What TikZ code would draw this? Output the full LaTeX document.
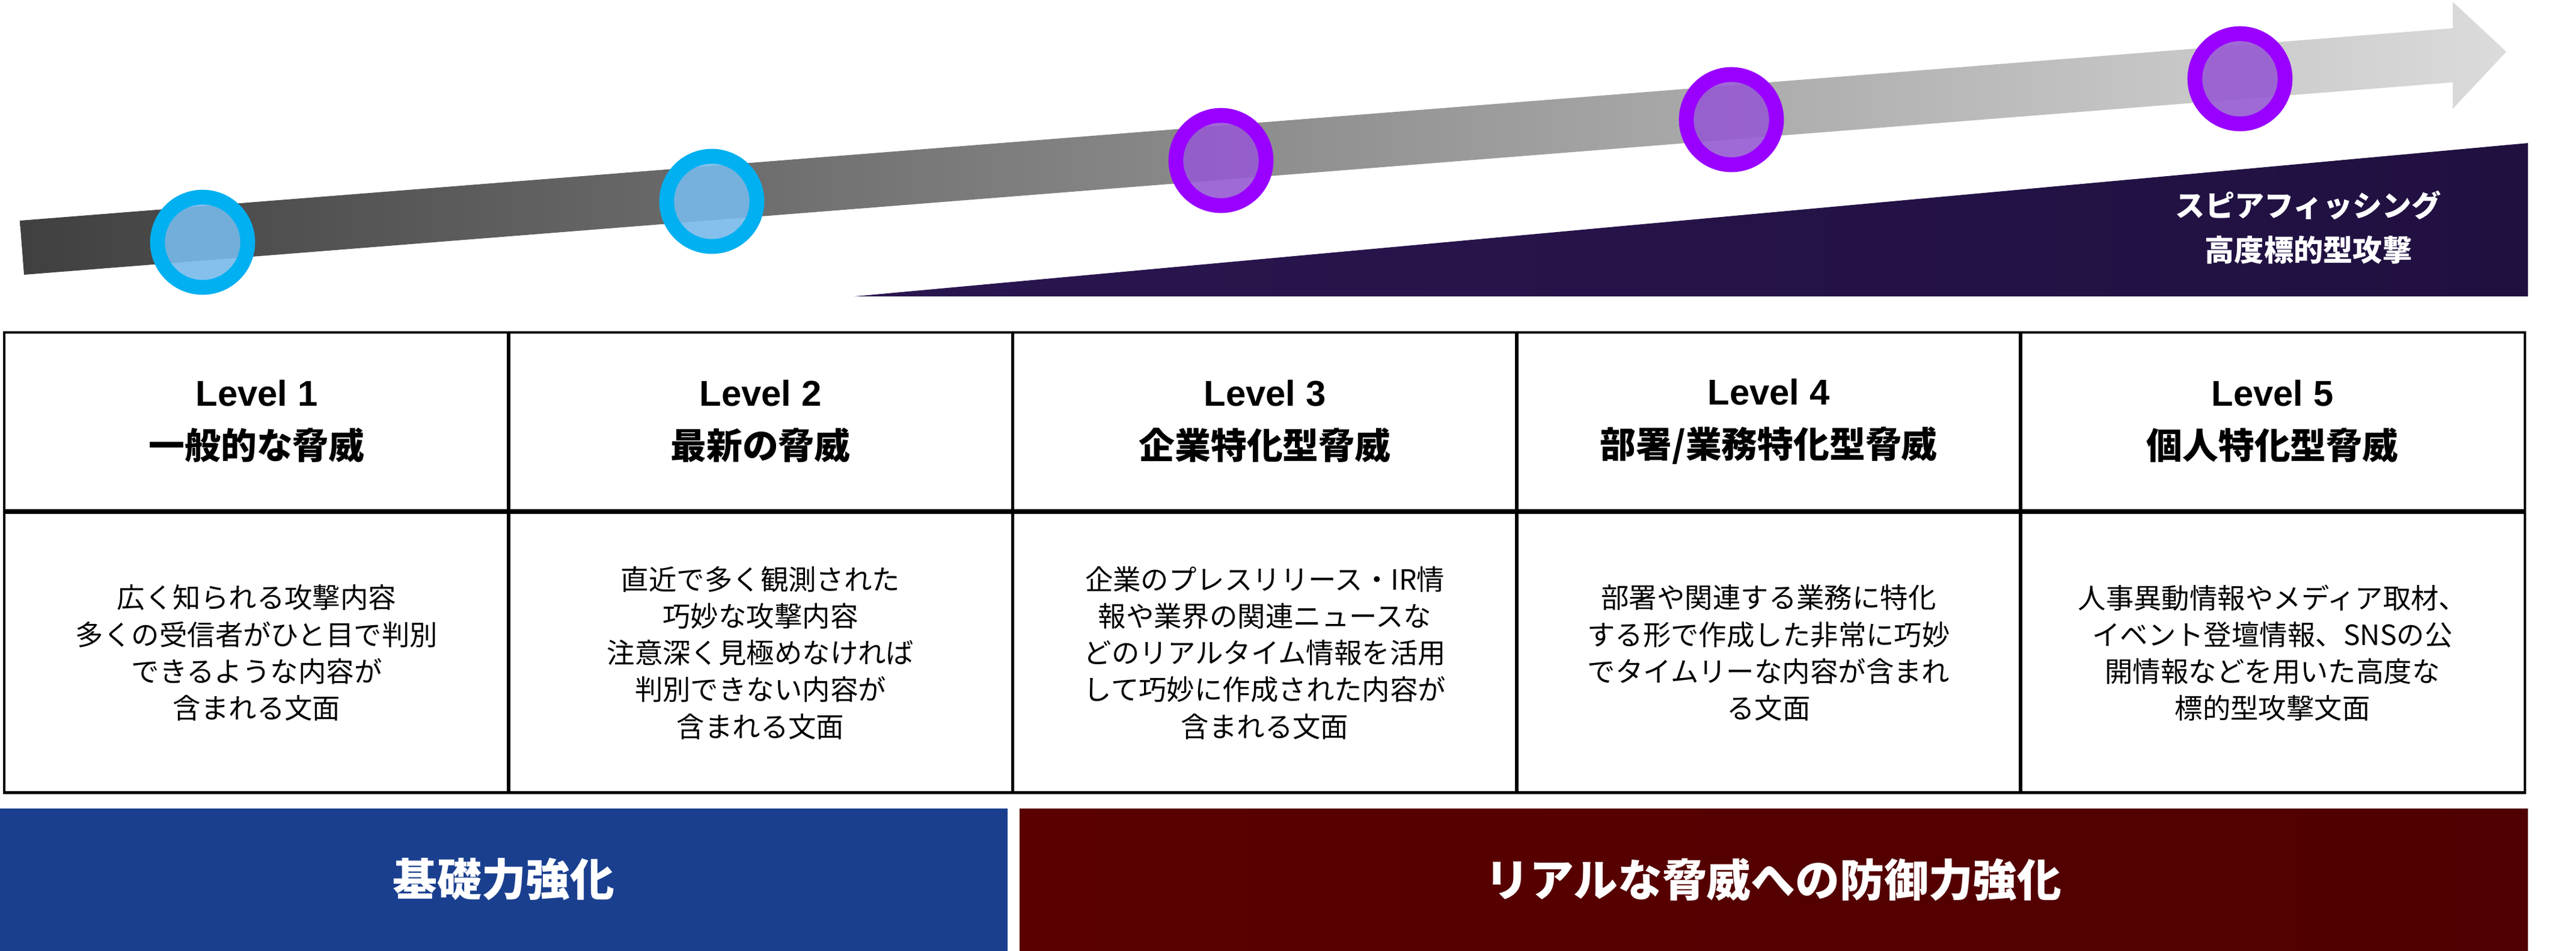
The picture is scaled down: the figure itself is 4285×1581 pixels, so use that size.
\documentclass[tikz,border=0pt]{standalone}
\usepackage{fontspec}
\setmainfont{Noto Sans CJK JP}
\newcommand\jpb{\bfseries}
\newfontfamily\lat{Liberation Sans}
\usetikzlibrary{positioning, calc}
\definecolor{ringblue}{HTML}{00B0F0}
\definecolor{ringpurple}{HTML}{9900FF}
\tikzstyle{head} = [rectangle, draw=black, line width=1.2pt, minimum width=8.39cm, minimum height=2.96cm, align=center, font=\fontsize{17}{25}\selectfont\bfseries, text centered]
\tikzstyle{body} = [rectangle, draw=black, line width=1.2pt, minimum width=8.39cm, minimum height=4.65cm, align=center, font=\fontsize{13.2}{17.4}\selectfont]
\tikzstyle{stage} = [line width=7pt]
\tikzstyle{band} = [text=white, font=\jpb\fontsize{21}{25}\selectfont]

\begin{document}
\begin{tikzpicture}[x=0.01cm, y=-0.01cm]
    \useasboundingbox (0,0) rectangle (4285,1581);
    % progress arrow
    \shade[left color=black!75, right color=black!14] (33,367) -- (4080,47) -- (4080,3) -- (4169,86) -- (4080,181) -- (4080,137) -- (40,457) -- cycle;
    % spear phishing wedge
    \shade[left color={rgb,255:red,42;green,22;blue,80}, middle color={rgb,255:red,80;green,40;blue,170}, right color={rgb,255:red,32;green,16;blue,64}] (1422,493) -- (4205,238) -- (4205,493) -- cycle;
    \node (spear) [band, font=\jpb\fontsize{14}{21}\selectfont, align=center] at (3840,378) {スピアフィッシング\\高度標的型攻撃};
    % stage markers
    \node (s1) [stage, circle, draw=ringblue, fill={rgb,255:red,120;green,185;blue,235}, fill opacity=0.9, minimum size=1.5cm] at (337,403) {};
    \node (s2) [stage, circle, draw=ringblue, fill={rgb,255:red,120;green,185;blue,235}, fill opacity=0.9, minimum size=1.5cm] at (1184,335) {};
    \node (s3) [stage, circle, draw=ringpurple, fill={rgb,255:red,150;green,90;blue,210}, fill opacity=0.9, minimum size=1.5cm] at (2031,267) {};
    \node (s4) [stage, circle, draw=ringpurple, fill={rgb,255:red,150;green,90;blue,210}, fill opacity=0.9, minimum size=1.5cm] at (2880,199) {};
    \node (s5) [stage, circle, draw=ringpurple, fill={rgb,255:red,150;green,90;blue,210}, fill opacity=0.9, minimum size=1.5cm] at (3726,131) {};
    % table
    \node (h1) [head] at (427,701) {{\lat Level 1}\\一般的な脅威};
    \node (h2) [head] at (1265,701) {{\lat Level 2}\\最新の脅威};
    \node (h3) [head] at (2104,701) {{\lat Level 3}\\企業特化型脅威};
    \node (h4) [head] at (2942,701) {{\lat Level 4}\\部署/業務特化型脅威};
    \node (h5) [head] at (3780,701) {{\lat Level 5}\\個人特化型脅威};
    \node (b1) [body, below=0pt of h1] {広く知られる攻撃内容\\多くの受信者がひと目で判別\\できるような内容が\\含まれる文面};
    \node (b2) [body, below=0pt of h2] {直近で多く観測された\\巧妙な攻撃内容\\注意深く見極めなければ\\判別できない内容が\\含まれる文面};
    \node (b3) [body, below=0pt of h3] {企業のプレスリリース・IR情\\報や業界の関連ニュースな\\どのリアルタイム情報を活用\\して巧妙に作成された内容が\\含まれる文面};
    \node (b4) [body, below=0pt of h4] {部署や関連する業務に特化\\する形で作成した非常に巧妙\\でタイムリーな内容が含まれ\\る文面};
    \node (b5) [body, below=0pt of h5] {人事異動情報やメディア取材、\\イベント登壇情報、SNSの公\\開情報などを用いた高度な\\標的型攻撃文面};
    % bottom bands
    \shade[left color={rgb,255:red,26;green,63;blue,143}, middle color={rgb,255:red,51;green,120;blue,232}, right color={rgb,255:red,26;green,63;blue,143}] (0,1345) rectangle (1676,1581);
    \shade[left color={rgb,255:red,90;green,0;blue,0}, middle color={rgb,255:red,221;green,0;blue,0}, right color={rgb,255:red,80;green,0;blue,0}] (1696,1345) rectangle (4205,1581);
    \node (base) [band] at (838,1463) {基礎力強化};
    \node (real) [band] at (2950,1463) {リアルな脅威への防御力強化};
\end{tikzpicture}
\end{document}
